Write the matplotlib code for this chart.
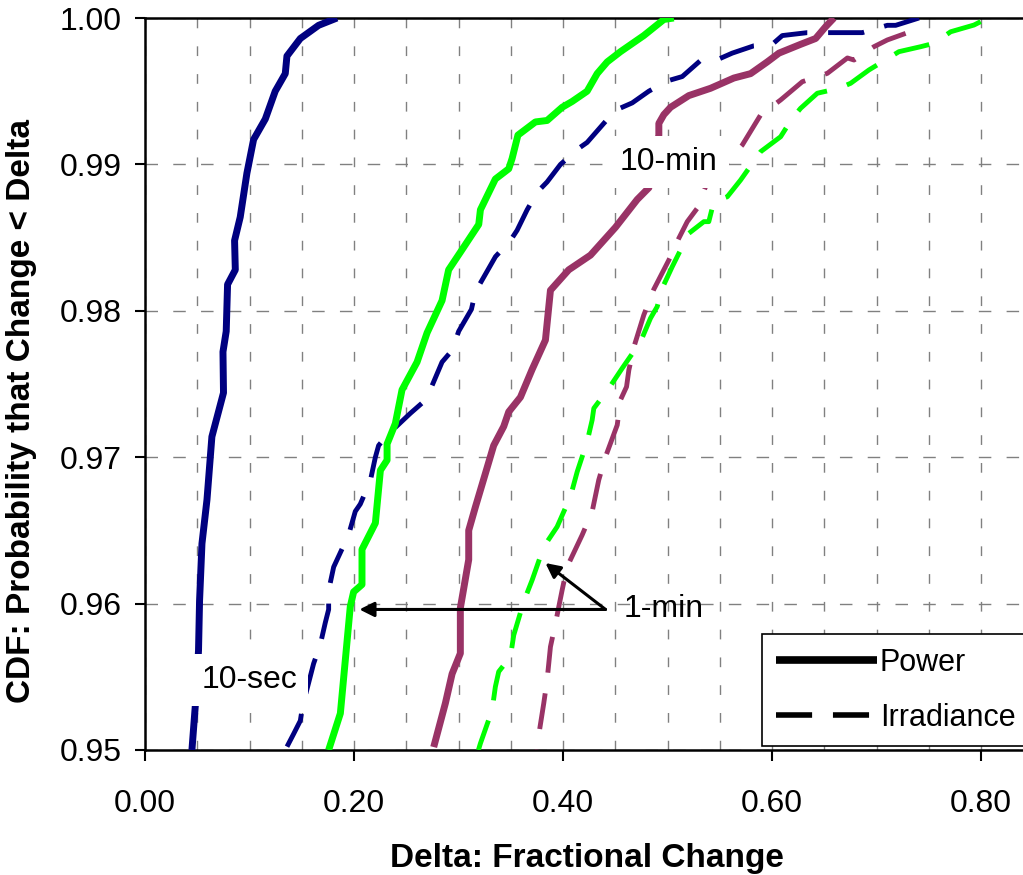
import matplotlib
matplotlib.use('Agg')
import matplotlib.pyplot as plt
from matplotlib.lines import Line2D
from matplotlib.ticker import MultipleLocator, FormatStrFormatter

plt.rcParams['font.family'] = ['Liberation Sans', 'DejaVu Sans']
plt.rcParams['lines.scale_dashes'] = False

# 10-sec
sec10_pow_x = [0.1837, 0.1661, 0.1486, 0.1358, 0.1342, 0.1246, 0.1151, 0.1039, 0.0975, 0.0911,
               0.0857, 0.0864, 0.0790, 0.0777, 0.0746, 0.0751, 0.0640, 0.0593, 0.0545, 0.0522,
               0.0512, 0.0481, 0.0449]
sec10_pow_y = [1.0000, 0.9995, 0.9986, 0.9974, 0.9962, 0.9950, 0.9931, 0.9917, 0.9894, 0.9864,
               0.9848, 0.9828, 0.9818, 0.9786, 0.9772, 0.9744, 0.9714, 0.9671, 0.9641, 0.9602,
               0.9568, 0.9530, 0.9500]
sec10_irr_x = [0.7405, 0.7182, 0.7102, 0.6863, 0.6655, 0.6336, 0.6097, 0.6001, 0.5825, 0.5618,
               0.5459, 0.5315, 0.5140, 0.4996, 0.4820, 0.4661, 0.4501, 0.4389, 0.4230, 0.4150,
               0.3975, 0.3847, 0.3752, 0.3656, 0.3560, 0.3496, 0.3353, 0.3225, 0.3161, 0.3123,
               0.3001, 0.2938, 0.2842, 0.2747, 0.2651, 0.2539, 0.2316, 0.2235, 0.2204, 0.2156,
               0.2060, 0.2012, 0.1948, 0.1805, 0.1757, 0.1757, 0.1725, 0.1677, 0.1613, 0.1508,
               0.1486, 0.1422, 0.1342]
sec10_irr_y = [1.0000, 0.9995, 0.9995, 0.9990, 0.9990, 0.9990, 0.9988, 0.9982, 0.9981, 0.9976,
               0.9971, 0.9971, 0.9960, 0.9957, 0.9950, 0.9942, 0.9937, 0.9928, 0.9915, 0.9911,
               0.9900, 0.9888, 0.9881, 0.9869, 0.9855, 0.9848, 0.9837, 0.9821, 0.9813, 0.9801,
               0.9786, 0.9773, 0.9765, 0.9749, 0.9737, 0.9730, 0.9715, 0.9708, 0.9700, 0.9684,
               0.9668, 0.9663, 0.9647, 0.9625, 0.9609, 0.9596, 0.9587, 0.9572, 0.9559, 0.9530,
               0.9520, 0.9511, 0.9500]

# 1-min
min1_pow_x = [0.5059, 0.4964, 0.4772, 0.4549, 0.4422, 0.4326, 0.4230, 0.4087, 0.3991, 0.3847,
              0.3735, 0.3568, 0.3512, 0.3480, 0.3352, 0.3209, 0.3193, 0.3017, 0.2905, 0.2842,
              0.2699, 0.2603, 0.2459, 0.2395, 0.2316, 0.2316, 0.2252, 0.2204, 0.2076, 0.2076,
              0.1996, 0.1964, 0.1869, 0.1757]
min1_pow_y = [1.0000, 0.9999, 0.9988, 0.9977, 0.9970, 0.9962, 0.9950, 0.9943, 0.9939, 0.9930,
              0.9929, 0.9920, 0.9904, 0.9897, 0.9890, 0.9869, 0.9859, 0.9840, 0.9828, 0.9807,
              0.9785, 0.9765, 0.9746, 0.9723, 0.9709, 0.9698, 0.9691, 0.9655, 0.9637, 0.9613,
              0.9608, 0.9598, 0.9525, 0.9500]
min1_irr_x = [0.7995, 0.7931, 0.7708, 0.7548, 0.7421, 0.7213, 0.6926, 0.6751, 0.6639, 0.6432,
              0.6272, 0.6193, 0.6081, 0.5890, 0.5698, 0.5571, 0.5442, 0.5394, 0.5347, 0.5203,
              0.5044, 0.4948, 0.4900, 0.4836, 0.4741, 0.4565, 0.4437, 0.4294, 0.4278, 0.4230,
              0.4135, 0.4070, 0.4006, 0.3943, 0.3815, 0.3704, 0.3623, 0.3528, 0.3496, 0.3384,
              0.3352, 0.3321, 0.3209, 0.3190]
min1_irr_y = [0.99975, 0.99952, 0.99906, 0.99827, 0.99804, 0.99770, 0.99645, 0.99554, 0.99520, 0.99486,
              0.99383, 0.99315, 0.99189, 0.99087, 0.98893, 0.98779, 0.98745, 0.98609, 0.98609, 0.98529,
              0.98301, 0.98154, 0.98028, 0.97949, 0.97789, 0.97607, 0.97470, 0.97334, 0.97254, 0.97106,
              0.96901, 0.96730, 0.96627, 0.96525, 0.96388, 0.96161, 0.96013, 0.95785, 0.95637, 0.95535,
              0.95432, 0.95273, 0.95045, 0.95000]

# 10-min
min10_pow_x = [0.6591, 0.6511, 0.6416, 0.6272, 0.6065, 0.5953, 0.5794, 0.5634, 0.5411, 0.5203,
               0.5028, 0.4964, 0.4916, 0.4916, 0.4820, 0.4709, 0.4501, 0.4262, 0.4054, 0.3879,
               0.3831, 0.3704, 0.3592, 0.3480, 0.3432, 0.3336, 0.3257, 0.3161, 0.3097, 0.3097,
               0.3017, 0.3017, 0.2938, 0.2874, 0.2762]
min10_pow_y = [1.0000, 0.9994, 0.9986, 0.9982, 0.9976, 0.9970, 0.9962, 0.9959, 0.9952, 0.9947,
               0.9939, 0.9934, 0.9928, 0.9920, 0.9884, 0.9876, 0.9857, 0.9838, 0.9828, 0.9814,
               0.9780, 0.9760, 0.9741, 0.9731, 0.9721, 0.9708, 0.9689, 0.9666, 0.9650, 0.9630,
               0.9597, 0.9566, 0.9552, 0.9532, 0.9502]
min10_irr_x = [0.7277, 0.7102, 0.6974, 0.6783, 0.6720, 0.6528, 0.6289, 0.6081, 0.5889, 0.5841,
               0.5714, 0.5363, 0.5283, 0.5188, 0.5107, 0.5012, 0.4868, 0.4772, 0.4683, 0.4629,
               0.4607, 0.4549, 0.4518, 0.4406, 0.4341, 0.4278, 0.4182, 0.4039, 0.3991, 0.3927,
               0.3879, 0.3847, 0.3815, 0.3767, 0.3750]
min10_irr_y = [0.99895, 0.99850, 0.99804, 0.99713, 0.99727, 0.99622, 0.99565, 0.99440, 0.99337, 0.99281,
               0.99132, 0.98848, 0.98700, 0.98609, 0.98495, 0.98347, 0.98147, 0.97971, 0.97766, 0.97595,
               0.97481, 0.97391, 0.97220, 0.97003, 0.96844, 0.96628, 0.96468, 0.96252, 0.96093, 0.95865,
               0.95705, 0.95478, 0.95319, 0.95102, 0.95000]

navy = '#000080'
lime = '#00FF00'
maroon = '#993366'
dash = (0, (26, 15))

fig = plt.figure(figsize=(10.23, 8.75), dpi=100)
ax = fig.add_axes([145 / 1023, 1 - 750 / 875, 1 - 145 / 1023, 732 / 875])

ax.plot(sec10_pow_x, sec10_pow_y, color=navy, lw=5, solid_capstyle='butt', zorder=3)
ax.plot(sec10_irr_x, sec10_irr_y, color=navy, lw=3.5, linestyle=dash, dash_capstyle='butt', zorder=3)
ax.plot(min1_pow_x, min1_pow_y, color=lime, lw=5, solid_capstyle='butt', zorder=3)
ax.plot(min1_irr_x, min1_irr_y, color=lime, lw=3.5, linestyle=dash, dash_capstyle='butt', zorder=3)
ax.plot(min10_pow_x, min10_pow_y, color=maroon, lw=5, solid_capstyle='butt', zorder=3)
ax.plot(min10_irr_x, min10_irr_y, color=maroon, lw=3.5, linestyle=dash, dash_capstyle='butt', zorder=3)

ax.set_xlim(0, 0.84)
ax.set_ylim(0.95, 1.0)
ax.xaxis.set_major_locator(MultipleLocator(0.2))
ax.xaxis.set_minor_locator(MultipleLocator(0.05))
ax.yaxis.set_major_locator(MultipleLocator(0.01))
ax.xaxis.set_major_formatter(FormatStrFormatter('%.2f'))
ax.yaxis.set_major_formatter(FormatStrFormatter('%.2f'))

ax.grid(True, which='minor', axis='x', color='#808080', lw=1, linestyle=(0, (7, 13)))
ax.grid(True, which='major', axis='x', color='#808080', lw=1, linestyle=(0, (7, 13)))
ax.grid(True, which='major', axis='y', color='#808080', lw=1, linestyle=(0, (9, 11)))
ax.set_axisbelow(True)

ax.tick_params(axis='x', which='major', direction='out', length=8, width=1.5, pad=20, labelsize=23)
ax.tick_params(axis='x', which='minor', length=0)
ax.tick_params(axis='y', direction='out', length=7, width=1.5, pad=10, labelsize=23)

ax.spines['right'].set_visible(False)
for s in ['left', 'bottom', 'top']:
    ax.spines[s].set_linewidth(1.8)

# labels
box = dict(facecolor='white', edgecolor='none', pad=8)
ax.text(0.5011, 0.99016, '10-min', fontsize=23, ha='center', va='center', bbox=box, zorder=5)
ax.text(0.0997, 0.95478, '10-sec', fontsize=23, ha='center', va='center', bbox=box, zorder=5)
ax.text(0.4578, 0.9596, '1-min', fontsize=23, ha='left', va='center', zorder=5)

arrow = dict(arrowstyle='-|>', color='black', lw=2.2, mutation_scale=22, shrinkA=0, shrinkB=0)
ax.annotate('', xy=(0.2051, 0.9596), xytext=(0.4406, 0.9596), arrowprops=arrow, zorder=6)
ax.annotate('', xy=(0.3831, 0.96277), xytext=(0.4406, 0.9596), arrowprops=arrow, zorder=6)

fig.text(22 / 1023, 1 - 411 / 875, 'CDF: Probability that Change < Delta', rotation=90,
         fontsize=24, fontweight='bold', ha='center', va='center')
fig.text(587 / 1023, 1 - 858 / 875, 'Delta: Fractional Change',
         fontsize=24, fontweight='bold', ha='center', va='center')

handles = [Line2D([], [], color='black', lw=5.5, solid_capstyle='butt'),
           Line2D([], [], color='black', lw=4, linestyle=(0, (26, 15)), dash_capstyle='butt')]
leg = ax.legend(handles, ['Power', 'Irradiance'], loc='lower left', bbox_to_anchor=(0.703, 0.005),
                fontsize=22, handlelength=3.3, handletextpad=0.1, labelspacing=0.8,
                borderpad=0.45, borderaxespad=0, fancybox=False, framealpha=1)
leg.get_frame().set_edgecolor('black')
leg.get_frame().set_linewidth(1.2)
leg.set_zorder(7)

fig.savefig('out.png', dpi=100)
